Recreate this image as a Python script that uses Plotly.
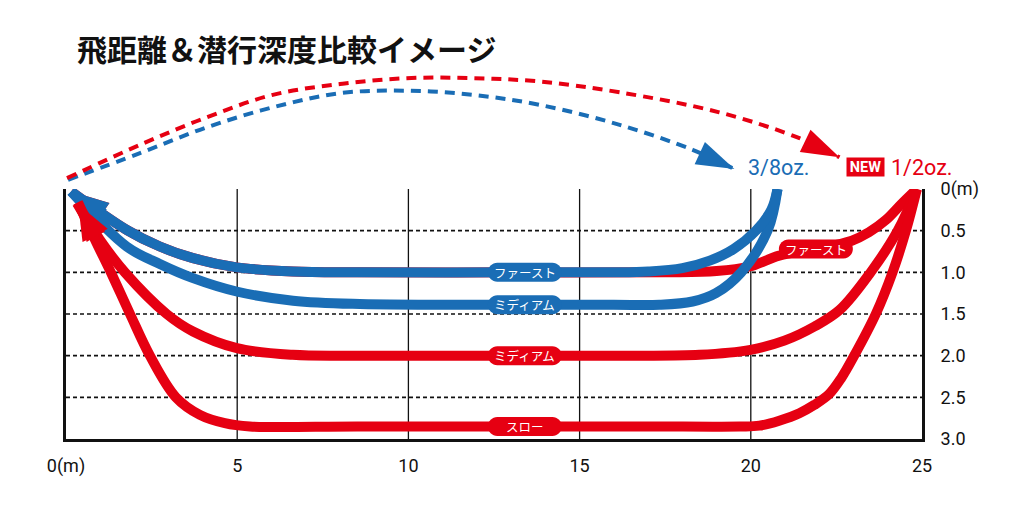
import plotly.graph_objects as go

# ---------------- data ----------------
title_text = "飛距離＆潜行深度比較イメージ"

x_tickvals = [0, 5, 10, 15, 20, 25]
x_ticktext = ["0(m)", "5", "10", "15", "20", "25"]
y_tickvals = [0, 0.5, 1.0, 1.5, 2.0, 2.5, 3.0]
y_ticktext = ["0(m)", "0.5", "1.0", "1.5", "2.0", "2.5", "3.0"]
v_grid = [5, 10, 15, 20]
h_grid = [0.5, 1.0, 1.5, 2.0, 2.5]

# dive paths: distance (m) / depth (m), from the cast point back to the angler
red_fast_x = [24.85, 24.4, 23.95, 23.45, 22.95, 21.9, 20.83, 19.96, 19.0, 17.5, 13.4, 8.5, 6.63, 4.98, 3.71, 2.74, 1.77, 0.15]
red_fast_d = [0.0, 0.18, 0.37, 0.52, 0.62, 0.72, 0.8, 0.93, 0.985, 1.0, 1.0, 1.0, 0.99, 0.94, 0.83, 0.69, 0.49, 0.03]

red_medium_x = [24.85, 24.29, 23.5, 22.6, 21.86, 20.98, 19.99, 18.5, 16.5, 13.4, 8.58, 6.62, 4.99, 3.71, 2.94, 1.72, 0.99, 0.32]
red_medium_d = [0.0, 0.5, 1.0, 1.45, 1.65, 1.82, 1.93, 1.99, 2.0, 2.0, 2.0, 1.99, 1.91, 1.71, 1.5, 1.0, 0.61, 0.17]

red_slow_x = [24.85, 24.53, 24.14, 23.65, 23.02, 22.64, 22.29, 21.86, 21.42, 20.83, 20.25, 19.67, 17.0, 13.4, 8.5, 5.37, 4.64, 3.91, 3.21, 2.45, 1.87, 1.31, 0.85, 0.35]
red_slow_d = [0.0, 0.5, 1.0, 1.5, 2.0, 2.27, 2.46, 2.59, 2.69, 2.78, 2.84, 2.85, 2.85, 2.85, 2.85, 2.85, 2.81, 2.71, 2.5, 2.0, 1.5, 1.0, 0.61, 0.16]

blue_fast_x = [20.78, 20.6, 20.15, 19.5, 18.8, 18.0, 17.0, 16.0, 13.4, 8.5, 6.63, 4.98, 3.71, 2.74, 1.77, 0.15]
blue_fast_d = [0.0, 0.25, 0.5, 0.72, 0.86, 0.95, 0.99, 1.0, 1.0, 1.0, 0.99, 0.94, 0.83, 0.69, 0.49, 0.03]

blue_medium_x = [20.78, 20.5, 19.72, 18.98, 18.3, 17.33, 16.0, 13.4, 8.58, 6.63, 4.98, 3.71, 2.74, 1.77, 0.15]
blue_medium_d = [0.0, 0.49, 1.0, 1.25, 1.35, 1.39, 1.39, 1.39, 1.38, 1.34, 1.23, 1.07, 0.9, 0.69, 0.03]

# flight arcs (distance m, height above the surface on the depth scale)
blue_arc_x = [0.06, 2.16, 4.11, 6.04, 8.0, 9.95, 11.88, 13.83, 16.17, 18.3, 19.52]
blue_arc_d = [-0.11, -0.43, -0.74, -0.98, -1.15, -1.18, -1.13, -1.01, -0.77, -0.47, -0.24]
red_arc_x = [0.03, 2.16, 4.11, 6.04, 8.0, 9.95, 11.88, 13.83, 16.17, 19.08, 21.42, 22.59]
red_arc_d = [-0.13, -0.53, -0.86, -1.13, -1.26, -1.33, -1.33, -1.29, -1.16, -0.92, -0.61, -0.38]

# badge labels on the paths
badge_text = ["ファースト", "ミディアム", "ミディアム", "スロー", "ファースト"]
badge_x = [13.4, 13.4, 13.4, 13.4, 21.9]
badge_d = [1.0, 1.39, 2.0, 2.85, 0.72]
badge_series = ["blue", "blue", "red", "red", "red"]

# lure weight labels
weight_38_text = "3/8oz."
weight_12_text = "1/2oz."
new_text = "NEW"

# ---------------- style ----------------
RED = "#E60012"
BLUE = "#1A6DB5"
W, H = 1024, 530
dom_x = [66 / W, 922 / W]
dom_y = [1 - 439 / H, 1 - 189 / H]
X0, X1 = 0, 25
D0, D1 = 0, 3

kx = (X1 - X0) / (dom_x[1] - dom_x[0])
ky = (D1 - D0) / (dom_y[1] - dom_y[0])
x2_range = [X0 - dom_x[0] * kx, X0 + (1 - dom_x[0]) * kx]
y2_range = [D1 + dom_y[0] * ky, D0 - (1 - dom_y[1]) * ky]

colors = {"red": RED, "blue": BLUE}


def path_trace(x, d, color, width, head, dash=None, xa="x", ya="y"):
    n = len(x)
    return go.Scatter(
        x=x, y=d, mode="lines+markers", xaxis=xa, yaxis=ya,
        line=dict(color=color, width=width, shape="spline", smoothing=1.0,
                  dash=dash),
        marker=dict(symbol=["circle"] * (n - 1) + ["arrow"],
                    size=[0] * (n - 1) + [head], angleref="previous",
                    color=color, opacity=1, line=dict(width=0)),
        cliponaxis=False, hoverinfo="skip", showlegend=False)


fig = go.Figure()
fig.add_trace(path_trace(red_fast_x, red_fast_d, RED, 10, 40))
fig.add_trace(path_trace(blue_medium_x, blue_medium_d, BLUE, 10, 40))
fig.add_trace(path_trace(blue_fast_x, blue_fast_d, BLUE, 10, 40))
fig.add_trace(path_trace(red_medium_x, red_medium_d, RED, 10, 40))
fig.add_trace(path_trace(red_slow_x, red_slow_d, RED, 10, 40))
fig.add_trace(path_trace(blue_arc_x, blue_arc_d, BLUE, 4, 40, dash="10px,7px", xa="x2", ya="y2"))
fig.add_trace(path_trace(red_arc_x, red_arc_d, RED, 4, 40, dash="10px,7px", xa="x2", ya="y2"))

shapes = []
for v in v_grid:
    shapes.append(dict(type="line", xref="x", yref="y", x0=v, x1=v, y0=D0, y1=D1,
                       line=dict(color="#111", width=1.3), layer="below"))
for h in h_grid:
    shapes.append(dict(type="line", xref="x", yref="y", x0=X0, x1=X1, y0=h, y1=h,
                       line=dict(color="#111", width=1.6, dash="4px,3px"), layer="below"))


def pill(w, h):
    r = h / 2
    a, b = w / 2, h / 2
    return (f"M {-a + r},{-b} L {a - r},{-b} C {a - r + 0.55 * r},{-b} {a},{-b + 0.45 * r} {a},0 "
            f"C {a},{b - 0.45 * r} {a - r + 0.55 * r},{b} {a - r},{b} L {-a + r},{b} "
            f"C {-a + r - 0.55 * r},{b} {-a},{b - 0.45 * r} {-a},0 "
            f"C {-a},{-b + 0.45 * r} {-a + r - 0.55 * r},{-b} {-a + r},{-b} Z")


annotations = []
for t, bx, bd, s in zip(badge_text, badge_x, badge_d, badge_series):
    shapes.append(dict(type="path", xref="x", yref="y", xsizemode="pixel", ysizemode="pixel",
                       xanchor=bx, yanchor=bd, path=pill(74, 19),
                       fillcolor=colors[s], line=dict(width=0), layer="above"))
    annotations.append(dict(x=bx, y=bd, xref="x", yref="y", text=t, showarrow=False,
                            font=dict(family="Noto Sans CJK JP", size=12.5, color="white")))

annotations.append(dict(x=75 / W, y=1 - 48 / H, xref="paper", yref="paper",
                        xanchor="left", yanchor="middle", showarrow=False,
                        text=f"<b>{title_text}</b>",
                        font=dict(family="Noto Sans CJK JP", size=30, color="#111")))
annotations.append(dict(x=19.85, y=-0.26, xref="x2", yref="y2", xanchor="left", yanchor="middle",
                        text=weight_38_text, showarrow=False,
                        font=dict(family="Roboto", size=21.5, color=BLUE)))
annotations.append(dict(x=23.34, y=-0.26, xref="x2", yref="y2", xanchor="center", yanchor="middle",
                        text=f"<b>{new_text}</b>", showarrow=False, bgcolor=RED,
                        width=37, height=18, borderpad=0,
                        font=dict(family="Roboto", size=14.5, color="white")))
annotations.append(dict(x=24.04, y=-0.26, xref="x2", yref="y2", xanchor="left", yanchor="middle",
                        text=weight_12_text, showarrow=False,
                        font=dict(family="Roboto", size=21.5, color=RED)))

tick_font = dict(family="Roboto", size=18, color="#111")
fig.update_layout(
    width=W, height=H, margin=dict(l=0, r=0, t=0, b=0, autoexpand=False),
    paper_bgcolor="white", plot_bgcolor="rgba(0,0,0,0)",
    showlegend=False,
    xaxis=dict(domain=dom_x, range=[X0, X1], anchor="y", tickvals=x_tickvals,
               ticktext=x_ticktext, ticks="", showgrid=False, zeroline=False,
               showline=True, linecolor="#111", linewidth=3, tickfont=tick_font,
               ticklabelstandoff=8, fixedrange=True, automargin=False),
    yaxis=dict(domain=dom_y, range=[D1, D0], anchor="x", side="right",
               tickvals=y_tickvals, ticktext=y_ticktext, ticks="", showgrid=False,
               zeroline=False, showline=True, mirror=True, linecolor="#111",
               linewidth=3, tickfont=tick_font, ticklabelstandoff=12, fixedrange=True,
               automargin=False),
    xaxis2=dict(domain=[0, 1], range=x2_range, anchor="y2", visible=False,
                fixedrange=True, automargin=False),
    yaxis2=dict(domain=[0, 1], range=y2_range, anchor="x2", visible=False,
                fixedrange=True, automargin=False),
    shapes=shapes, annotations=annotations,
)

fig.write_html("out.html")
